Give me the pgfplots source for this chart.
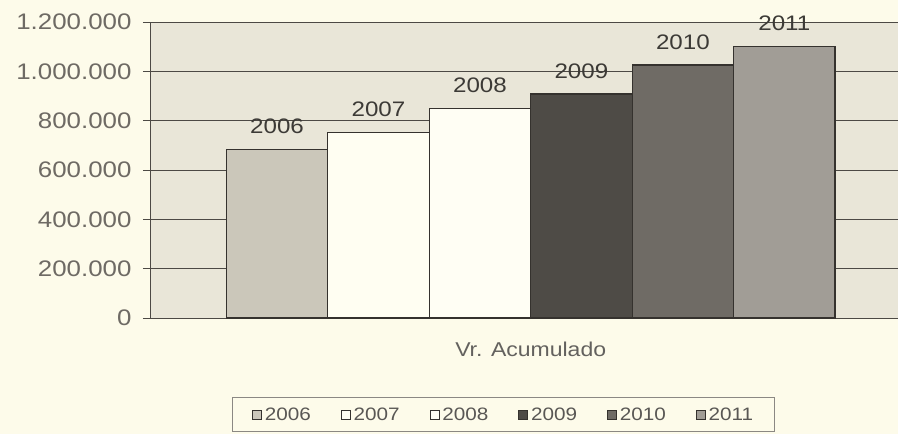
\documentclass[border=0pt]{standalone}
\usepackage{fontspec}
\setmainfont{Liberation Sans}[FakeStretch=1.15]
\usepackage{pgfplots}
\pgfplotsset{compat=1.18}
\definecolor{pagebg}{HTML}{FDFBEA}
\definecolor{plotbg}{HTML}{E9E6D8}
\definecolor{gridc}{HTML}{4C4944}
\definecolor{edgec}{HTML}{35322E}
\definecolor{tickc}{HTML}{6E6A64}
\definecolor{labc}{HTML}{3C3A36}
\definecolor{cA}{HTML}{CBC7BA}
\definecolor{cB}{HTML}{FFFEF2}
\definecolor{cC}{HTML}{FFFEF4}
\definecolor{cD}{HTML}{4E4B46}
\definecolor{cE}{HTML}{6F6B65}
\definecolor{cF}{HTML}{A19D96}
\pgfplotsset{sqlegend/.style={legend image code/.code={\draw[##1, line width=0.7pt] (0pt,-4.5pt) rectangle (9pt,4.5pt);}}}
\begin{document}
\begin{tikzpicture}
\useasboundingbox (-150pt,-116pt) rectangle (748pt,318pt);
\fill[pagebg] (-150pt,-116pt) rectangle (748pt,318pt);
\begin{axis}[
  anchor=south west, at={(0pt,0pt)},
  scale only axis, width=750pt, height=296pt,
  xmin=-1.252, xmax=6.14, ymin=0, ymax=1200000,
  axis background/.style={fill=plotbg},
  axis x line*=bottom, axis y line*=left,
  axis line style={gridc, line width=0.8pt},
  ytick={0,200000,400000,600000,800000,1000000,1200000},
  ymajorgrids, grid style={gridc, line width=0.8pt},
  scaled y ticks=false,
  /pgf/number format/fixed,
  /pgf/number format/1000 sep={.},
  /pgf/number format/assume math mode=true,
  yticklabel style={font=\fontsize{22.5}{24}\selectfont, text=tickc, xshift=-8pt},
  xtick={2.5}, xticklabels={Vr. Acumulado},
  xticklabel style={font=\fontsize{20}{22}\selectfont, text=labc!80!white, yshift=-13pt},
  x tick style={draw=none},
  y tick style={gridc, line width=0.8pt},
  tick align=outside, major tick length=7pt,
  ybar, bar width=1,
  every axis plot/.append style={bar shift=0pt, draw=edgec, line width=1.2pt},
  nodes near coords style={font=\fontsize{21}{22}\selectfont, text=labc, inner sep=0pt, yshift=15pt},
  legend columns=6,
  legend style={at={(0.109,-0.267)}, anchor=north west, fill=pagebg, draw=tickc!80!white, line width=0.8pt,
    font=\fontsize{18}{20}\selectfont, text=labc!85!white, inner xsep=20pt, inner ysep=8pt,
    nodes={inner xsep=1pt},
    /tikz/every odd column/.append style={column sep=2pt},
    /tikz/every even column/.append style={column sep=29pt}},
]
\addplot[fill=cA, sqlegend, nodes near coords={2006}] coordinates {(0,683000)};
\addplot[fill=cB, sqlegend, nodes near coords={2007}] coordinates {(1,751000)};
\addplot[fill=cC, sqlegend, nodes near coords={2008}] coordinates {(2,850000)};
\addplot[fill=cD, sqlegend, nodes near coords={2009}] coordinates {(3,908000)};
\addplot[fill=cE, sqlegend, nodes near coords={2010}] coordinates {(4,1026000)};
\addplot[fill=cF, sqlegend, nodes near coords={2011}] coordinates {(5,1100000)};
\legend{2006,2007,2008,2009,2010,2011}
\end{axis}
\end{tikzpicture}
\end{document}
